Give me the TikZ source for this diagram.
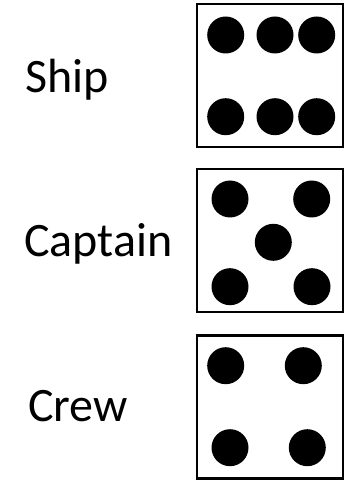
\documentclass[tikz,border=0pt]{standalone}
\usepackage{fontspec}
\setmainfont{Carlito}
\begin{document}
\begin{tikzpicture}[x=1pt, y=1pt,
    die/.style={draw, line width=2.3pt, minimum width=145.4pt, minimum height=143pt, inner sep=0pt},
    pip/.style={circle, fill, minimum size=37pt, inner sep=0pt},
    word/.style={anchor=base west, inner sep=0pt, font=\fontsize{48}{52}\selectfont}]
    \useasboundingbox (0,0) rectangle (354,480);

    % labels
    \node[word] (ship) at (25,387.7) {Ship};
    \node[word] (captain) at (24,223.3) {Captain};
    \node[word] (crew) at (28,58.3) {Crew};

    % dice
    \node[die] (shipdie) at (270,404.2) {};
    \node[die] (captaindie) at (270,239.4) {};
    \node[die] (crewdie) at (270,73) {};

    % six pips
    \foreach \px/\py [count=\i] in {225.7/445, 275/445, 316.7/445, 225.7/363.3, 275/363.3, 316.7/363.3}
        \node[pip] (ship\i) at (\px,\py) {};

    % five pips
    \foreach \px/\py [count=\i] in {230/281, 311.7/281, 273.3/237.7, 230/193.3, 312/193.3}
        \node[pip] (captain\i) at (\px,\py) {};

    % four pips
    \foreach \px/\py [count=\i] in {225.7/114.3, 303.3/114.3, 230/32.3, 307.3/32.3}
        \node[pip] (crew\i) at (\px,\py) {};
\end{tikzpicture}
\end{document}
